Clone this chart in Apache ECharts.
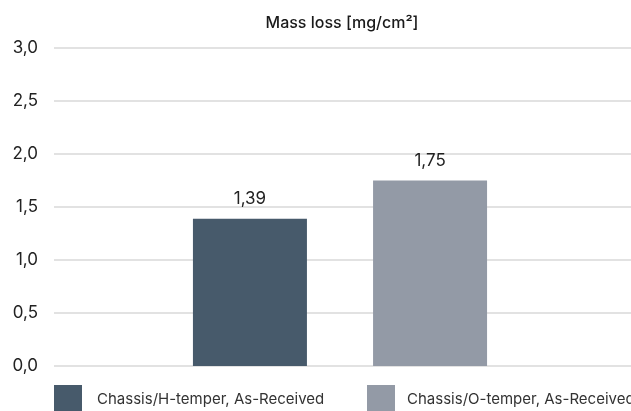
<!DOCTYPE html>
<html>
<head>
<meta charset="utf-8">
<script src="https://cdn.jsdelivr.net/npm/echarts@6/dist/echarts.min.js"></script>
<style>
html,body{margin:0;padding:0;background:#fff;}
#chart{width:631px;height:411px;}
</style>
</head>
<body>
<div id="chart"></div>
<script>
const title = 'Mass loss [mg/cm²]';
const categories = [''];
const seriesNames = ['Chassis/H-temper, As-Received', 'Chassis/O-temper, As-Received'];
const hTemper = [1.39];
const oTemper = [1.75];
const colors = ['#475a6b', '#939aa6'];
const yMin = 0, yMax = 3, yStep = 0.5;

const fmt = v => v.toFixed(v === Math.round(v * 10) / 10 ? 1 : 2).replace('.', ',');
const font = 'Inter, "Noto Sans", sans-serif';

const chart = echarts.init(document.getElementById('chart'), null, {renderer: 'canvas'});
chart.setOption({
  animation: false,
  title: {
    text: title, left: 342, top: 15, textAlign: 'center', padding: 0,
    textStyle: {fontFamily: font, fontSize: 16, fontWeight: 500, color: '#1a1a1a'}
  },
  grid: [
    {left: 54, right: -1, top: 48, bottom: 45, containLabel: false},
    {left: 54, right: 5, top: 48, bottom: 45, containLabel: false}
  ],
  legend: [
    {data: [seriesNames[0]], left: 54, top: 385, padding: 0, itemWidth: 28, itemHeight: 28, icon: 'rect',
     itemGap: 0, textStyle: {fontFamily: font, fontSize: 15, color: '#333', padding: [0, 0, 0, 10]}},
    {data: [seriesNames[1]], left: 367, top: 385, padding: 0, itemWidth: 28, itemHeight: 28, icon: 'rect',
     itemGap: 0, textStyle: {fontFamily: font, fontSize: 15, color: '#333', padding: [0, 0, 0, 7]}}
  ],
  xAxis: [
    {gridIndex: 0, type: 'category', data: categories,
     axisLine: {show: false}, axisTick: {show: false}, axisLabel: {show: false}},
    {gridIndex: 1, type: 'category', data: categories,
     axisLine: {show: false}, axisTick: {show: false}, axisLabel: {show: false}}
  ],
  yAxis: [
    {gridIndex: 0, type: 'value', min: yMin, max: yMax, interval: yStep,
     axisLine: {show: false}, axisTick: {show: false},
     splitLine: {lineStyle: {color: '#d9d9d9', width: 1.5}},
     axisLabel: {margin: 16, fontFamily: font, fontSize: 17, color: '#222',
       formatter: v => v.toFixed(1).replace('.', ',')}},
    {gridIndex: 1, type: 'value', min: yMin, max: yMax, interval: yStep, show: false,
     splitLine: {show: false}}
  ],
  series: [
    {name: seriesNames[0], type: 'bar', xAxisIndex: 1, yAxisIndex: 1, data: hTemper, barWidth: 114, barGap: '58%',
     itemStyle: {color: colors[0]},
     label: {show: true, position: 'top', distance: 11, fontFamily: font, fontSize: 17, color: '#222',
       formatter: p => fmt(p.value)}},
    {name: seriesNames[1], type: 'bar', xAxisIndex: 1, yAxisIndex: 1, data: oTemper, barWidth: 114, barGap: '58%',
     itemStyle: {color: colors[1]},
     label: {show: true, position: 'top', distance: 11, fontFamily: font, fontSize: 17, color: '#222',
       formatter: p => fmt(p.value)}}
  ]
});
</script>
</body>
</html>
